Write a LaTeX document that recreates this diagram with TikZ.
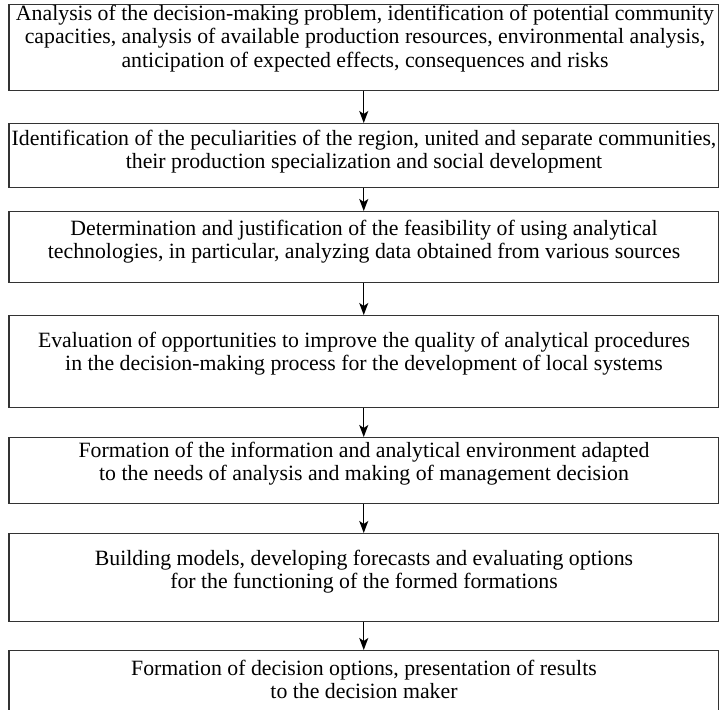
\documentclass[tikz,border=0pt]{standalone}
\usepackage{fontspec}
\setmainfont{Liberation Serif}
\usetikzlibrary{arrows.meta}
\begin{document}
\begin{tikzpicture}[x=1pt,y=-1pt,
  stepbox/.style={draw=black!80, line width=1.1pt, minimum width=709.5pt, inner sep=0pt, anchor=north},
  steptext/.style={anchor=north, inner sep=0pt, align=center, font=\fontsize{21.8}{23.5}\selectfont},
  flow/.style={draw=black, line width=1.4pt, -{Stealth[length=12pt,width=9pt,inset=3pt]}}]
\useasboundingbox (0,0) rectangle (721,710);
% boxes
\node[stepbox, minimum height=86pt] (b1) at (363.75,4) {};
\node[stepbox, minimum height=64pt] (b2) at (363.75,123) {};
\node[stepbox, minimum height=71pt] (b3) at (363.75,211) {};
\node[stepbox, minimum height=92pt] (b4) at (363.75,315) {};
\node[stepbox, minimum height=66pt] (b5) at (363.75,437) {};
\node[stepbox, minimum height=88pt] (b6) at (363.75,533) {};
\node[stepbox, minimum height=80pt] (b7) at (363.75,650) {};
% texts (first baseline - strut height 16.45)
\node[steptext] (t1) at (365,3.6) {\strut Analysis of the decision-making problem, identification of potential community\\ capacities, analysis of available production resources, environmental analysis,\\ anticipation of expected effects, consequences and risks};
\node[steptext] (t2) at (364,128.6) {\strut Identification of the peculiarities of the region, united and separate communities,\\ their production specialization and social development};
\node[steptext] (t3) at (364,218.6) {\strut Determination and justification of the feasibility of using analytical\\ technologies, in particular, analyzing data obtained from various sources};
\node[steptext] (t4) at (364,330.6) {\strut Evaluation of opportunities to improve the quality of analytical procedures\\ in the decision-making process for the development of local systems};
\node[steptext] (t5) at (364,440.6) {\strut Formation of the information and analytical environment adapted\\ to the needs of analysis and making of management decision};
\node[steptext] (t6) at (364,548.6) {\strut Building models, developing forecasts and evaluating options\\ for the functioning of the formed formations};
\node[steptext] (t7) at (364,658.6) {\strut Formation of decision options, presentation of results\\ to the decision maker};
% arrows
\draw[flow] (b1.south) -- (b2.north);
\draw[flow] (b2.south) -- (b3.north);
\draw[flow] (b3.south) -- (b4.north);
\draw[flow] (b4.south) -- (b5.north);
\draw[flow] (b5.south) -- (b6.north);
\draw[flow] (b6.south) -- (b7.north);
\end{tikzpicture}
\end{document}
